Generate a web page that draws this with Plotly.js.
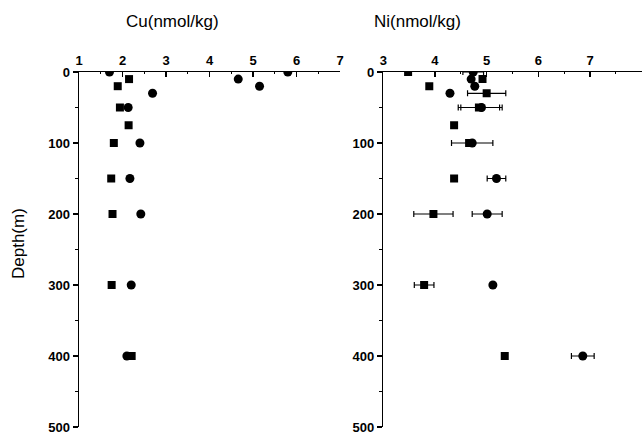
<!DOCTYPE html>
<html>
<head>
<meta charset="utf-8">
<script src="https://cdn.plot.ly/plotly-3.0.1.min.js"></script>
<style>html,body{margin:0;padding:0;background:#fff;}#chart{width:643px;height:436px;}</style>
</head>
<body>
<div id="chart"></div>
<script>
// Cu (nmol/kg)
const cuSqDepth = [10, 20, 50, 75, 100, 150, 200, 300, 400];
const cuSqVal   = [2.15, 1.89, 1.94, 2.14, 1.80, 1.74, 1.77, 1.75, 2.21];
const cuCiDepth = [0, 0, 10, 20, 30, 50, 100, 150, 200, 300, 400];
const cuCiVal   = [1.70, 5.80, 4.66, 5.15, 2.69, 2.13, 2.40, 2.17, 2.42, 2.20, 2.10];

// Ni (nmol/kg)
const niSqDepth = [0, 10, 20, 30, 50, 75, 100, 150, 200, 300, 400];
const niSqVal   = [3.48, 4.92, 3.89, 5.00, 4.85, 4.37, 4.66, 4.37, 3.97, 3.79, 5.35];
const niSqErr   = [0, 0, 0, 0.37, 0.40, 0, 0, 0, 0.38, 0.19, 0];
const niCiDepth = [0, 10, 20, 30, 50, 100, 150, 200, 300, 400];
const niCiVal   = [4.74, 4.70, 4.77, 4.29, 4.90, 4.72, 5.19, 5.01, 5.12, 6.86];
const niCiErr   = [0.20, 0, 0, 0, 0.40, 0.40, 0.18, 0.29, 0, 0.22];

const cuTicks = [1, 2, 3, 4, 5, 6, 7];
const niTicks = [3, 4, 5, 6, 7, 8];
const depthTicks = [0, 100, 200, 300, 400, 500];

const sq = {symbol: 'square', size: 8, color: '#000'};
const ci = {symbol: 'circle', size: 9, color: '#000'};
const errStyle = {type: 'data', symmetric: true, color: '#000', thickness: 1.2, width: 3};

const traces = [
  {x: cuSqVal, y: cuSqDepth, mode: 'markers', marker: sq, xaxis: 'x', yaxis: 'y', showlegend: false},
  {x: cuCiVal, y: cuCiDepth, mode: 'markers', marker: ci, xaxis: 'x', yaxis: 'y', showlegend: false},
  {x: niSqVal, y: niSqDepth, mode: 'markers', marker: sq, xaxis: 'x2', yaxis: 'y2', showlegend: false,
   error_x: Object.assign({array: niSqErr}, errStyle)},
  {x: niCiVal, y: niCiDepth, mode: 'markers', marker: ci, xaxis: 'x2', yaxis: 'y2', showlegend: false,
   error_x: Object.assign({array: niCiErr}, errStyle)}
];

const tickFont = {family: 'Liberation Sans, Arial, sans-serif', size: 13, color: '#000', weight: 'bold'};
const xBase = {
  side: 'top', showline: true, linecolor: '#000', linewidth: 1.5, mirror: false,
  ticks: 'inside', ticklen: 5, tickcolor: '#000', tickwidth: 1.2,
  showgrid: false, zeroline: false, tickfont: tickFont, tickmode: 'array',
  minor: {ticks: 'inside', ticklen: 2, tickcolor: '#000', dtick: 0.5}
};
const yBase = {
  autorange: false, range: [500, 0], showline: true, linecolor: '#000', linewidth: 1.5,
  ticks: 'outside', ticklen: 5, tickcolor: '#000', tickwidth: 1.2,
  showgrid: false, zeroline: false, tickfont: tickFont, tickmode: 'array', tickvals: depthTicks,
  minor: {ticks: 'outside', ticklen: 3, tickcolor: '#000', dtick: 50}
};

const layout = {
  width: 643, height: 436,
  margin: {l: 0, r: 0, t: 72, b: 9},
  paper_bgcolor: '#fff', plot_bgcolor: '#fff',
  xaxis: Object.assign({}, xBase, {domain: [0.1229, 0.5288], range: [1, 7], tickvals: cuTicks, anchor: 'y'}),
  yaxis: Object.assign({}, yBase, {anchor: 'x'}),
  xaxis2: Object.assign({}, xBase, {domain: [0.5961, 0.998], range: [3, 8], tickvals: niTicks, anchor: 'y2'}),
  yaxis2: Object.assign({}, yBase, {anchor: 'x2'}),
  annotations: [
    {text: 'Cu(nmol/kg)', xref: 'paper', yref: 'paper', x: 173/643, y: 1 + (72-22)/355, xanchor: 'center', yanchor: 'middle',
     showarrow: false, font: {family: 'Liberation Sans, Arial, sans-serif', size: 17, color: '#000'}},
    {text: 'Ni(nmol/kg)', xref: 'paper', yref: 'paper', x: 417/643, y: 1 + (72-22)/355, xanchor: 'center', yanchor: 'middle',
     showarrow: false, font: {family: 'Liberation Sans, Arial, sans-serif', size: 17, color: '#000'}},
    {text: 'Depth(m)', xref: 'paper', yref: 'paper', x: 18/643, y: 1 - (244-72)/355, xanchor: 'center', yanchor: 'middle',
     textangle: -90, showarrow: false, font: {family: 'Liberation Sans, Arial, sans-serif', size: 17, color: '#000'}}
  ]
};

Plotly.newPlot('chart', traces, layout, {displayModeBar: false, staticPlot: true});
</script>
</body>
</html>
